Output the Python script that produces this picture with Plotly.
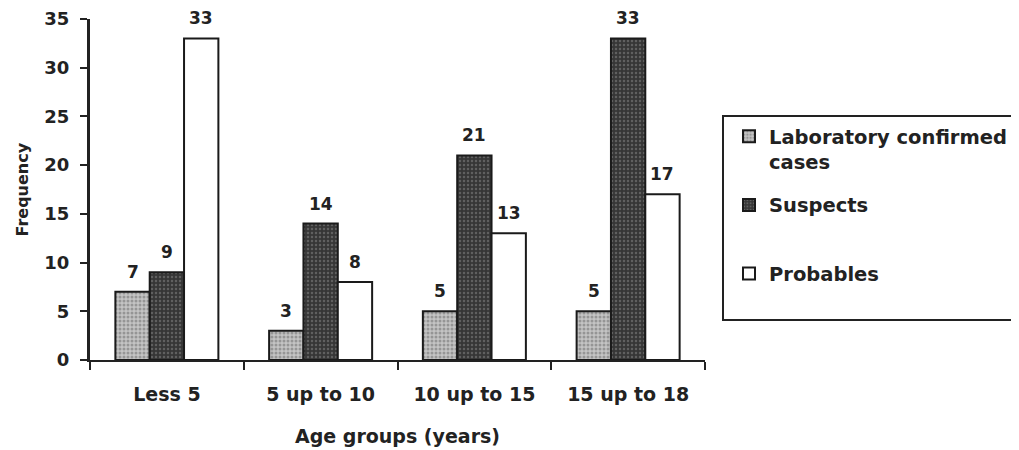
import plotly.graph_objects as go

categories = ["Less 5", "5 up to 10", "10 up to 15", "15 up to 18"]
lab_confirmed = [7, 3, 5, 5]
suspects = [9, 14, 21, 33]
probables = [33, 8, 13, 17]
series_names = ["Laboratory confirmed<br>cases", "Suspects<br>&nbsp;", "Probables<br>&nbsp;"]
y_ticks = [0, 5, 10, 15, 20, 25, 30, 35]

FONT = "DejaVu Sans, Liberation Sans, Arial, sans-serif"
INK = "#222"
W, H = 1019, 450
PW, PH = 615, 341          # plot area size
L, T = 82, 11              # page body adds 8px
R, B = W - L - PW, H - T - PH
BARGAP = 0.33

fig = go.Figure()
styles = [
    dict(bgcolor="#c4c4c4", fgcolor="#666", shape=".", size=4, solidity=0.45),
    dict(bgcolor="#363636", fgcolor="#8a8a8a", shape=".", size=4, solidity=0.3),
    None,
]
all_series = [lab_confirmed, suspects, probables]
for i, (name, vals) in enumerate(zip(series_names, all_series)):
    marker = dict(color="white", line=dict(color="#1a1a1a", width=2))
    if styles[i]:
        marker["color"] = styles[i]["bgcolor"]
        marker["pattern"] = styles[i]
    fig.add_trace(go.Bar(
        x=categories, y=vals, name=name, marker=marker,
        legendgroup=f"g{i}",
    ))

# value labels above bars (positioned by data, shifted to each bar of the group)
bar_px = PW / len(categories) * (1 - BARGAP) / len(all_series)
annotations = []
for i, vals in enumerate(all_series):
    for c, v in zip(categories, vals):
        annotations.append(dict(
            x=c, y=v, xref="x", yref="y", text=str(v), showarrow=False,
            xshift=(i - 1) * bar_px, yshift=20, yanchor="middle",
            font=dict(family=FONT, size=17, color=INK, weight="bold"),
        ))

# y-axis title
annotations.append(dict(
    text="Frequency", xref="paper", yref="paper",
    x=-(L - 14) / PW, y=0.5, xanchor="center", yanchor="middle",
    textangle=-90, showarrow=False,
    font=dict(family=FONT, size=16, color=INK, weight="bold"),
))

fig.update_layout(
    width=W, height=H,
    margin=dict(l=L, r=R, t=T, b=B, pad=0, autoexpand=False),
    paper_bgcolor="white", plot_bgcolor="white",
    barmode="group", bargap=BARGAP, bargroupgap=0,
    font=dict(family=FONT, color=INK),
    showlegend=True,
    legend=dict(
        x=(722 - 8 - L) / PW, y=(H - B - (115 - 8)) / PH,
        xanchor="left", yanchor="top", valign="top",
        bordercolor=INK, borderwidth=2, bgcolor="white",
        font=dict(family=FONT, size=19.5, color=INK, weight="bold"),
        tracegroupgap=15, itemwidth=30, indentation=5,
    ),
    xaxis=dict(
        automargin=False,
        showline=True, linecolor=INK, linewidth=2,
        ticks="outside", tickson="boundaries", ticklen=8, tickwidth=2, tickcolor=INK,
        tickfont=dict(family=FONT, size=19, color=INK, weight="bold"),
        ticklabelstandoff=16,
        showgrid=False, zeroline=False,
        title=dict(text="Age groups (years)", standoff=26,
                   font=dict(family=FONT, size=19, color=INK, weight="bold")),
    ),
    yaxis=dict(
        automargin=False,
        range=[0, 35], tickvals=y_ticks,
        showline=True, linecolor=INK, linewidth=3,
        ticks="outside", ticklen=7, tickwidth=2, tickcolor=INK,
        tickfont=dict(family=FONT, size=18, color=INK, weight="bold"),
        ticklabelstandoff=7,
        showgrid=False, zeroline=False,
    ),
    annotations=annotations,
)

fig.write_html("out.html")
